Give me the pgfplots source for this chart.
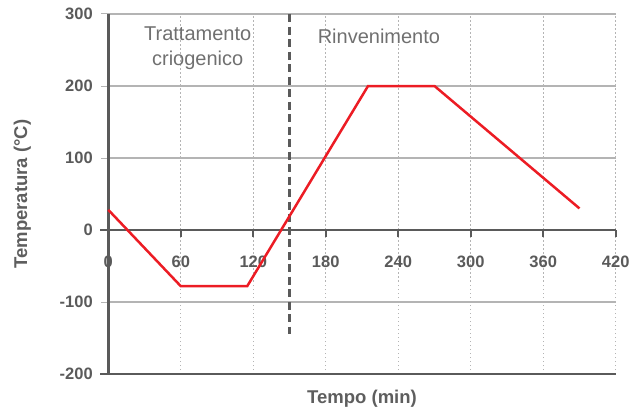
\documentclass[border=0pt]{standalone}
\usepackage{pgfplots}
\pgfplotsset{compat=1.18}
\usepackage{fontspec}
\setmainfont{Liberation Sans}
\definecolor{axisgray}{HTML}{5A5A5A}
\definecolor{gridgray}{HTML}{B4B4B4}
\definecolor{textgray}{HTML}{5E5E5E}
\definecolor{lightgray2}{HTML}{707070}
\definecolor{redline}{HTML}{EC1C24}
\begin{document}
\begin{tikzpicture}
\begin{axis}[
  scale only axis, width=507.4pt, height=360pt,
  xmin=0, xmax=420, ymin=-200, ymax=300,
  axis x line=middle, axis y line=left,
  hide obscured x ticks=false,
  axis line style={-, draw=axisgray, line width=2.2pt},
  xtick={0,60,120,180,240,300,360,420},
  ytick={-200,-100,0,100,200,300},
  tick align=outside,
  major tick length=7pt,
  xtick style={draw=axisgray, line width=2pt},
  ytick style={draw=gridgray, line width=1pt},
  xmajorgrids, ymajorgrids,
  major x grid style={draw=gridgray, line width=0.9pt, dash pattern=on 1.5pt off 2.5pt},
  major y grid style={draw=gridgray, line width=1.1pt},
  /pgf/number format/assume math mode=true,
  /pgf/number format/1000 sep={},
  ticklabel style={font=\fontsize{16.5}{18}\selectfont\bfseries, text=axisgray},
  xticklabel style={yshift=-15pt},
  yticklabel style={xshift=-5pt},
  every axis x label/.style={at={(axis description cs:0.5,-0.069)}, anchor=center},
  every axis y label/.style={at={(axis description cs:-0.1695,0.5)}, rotate=90, anchor=center},
  xlabel={Tempo (min)},
  ylabel={Temperatura (°C)},
  label style={font=\fontsize{18.5}{20}\selectfont\bfseries, text=textgray},
  clip=false,
]
\draw[axisgray, line width=2.4pt] ([xshift=-8pt]axis cs:0,-200) -- (axis cs:420,-200);
\draw[axisgray, line width=2.4pt] ([xshift=-8pt]axis cs:0,0) -- (axis cs:420,0);
\draw[axisgray, line width=2.4pt] (axis cs:0,-200) -- (axis cs:0,300);
\addplot[axisgray, line width=2.6pt, dash pattern=on 8pt off 4.5pt] coordinates {(150,300) (150,-145)};
\addplot[redline, line width=2.5pt] coordinates {
  (0,28) (60,-78) (115,-78) (215,200) (270,200) (390,30)
};
\node[align=center, font=\fontsize{20}{25}\selectfont, text=lightgray2] at (axis cs:74,252) {Trattamento\\criogenico};
\node[font=\fontsize{20}{25}\selectfont, text=lightgray2] at (axis cs:224,269) {Rinvenimento};
\end{axis}
\pgfresetboundingbox
\path ([shift={(-108.3pt,-40pt)}]current axis.south west) rectangle ([shift={(24.3pt,14pt)}]current axis.north east);
\end{tikzpicture}
\end{document}
